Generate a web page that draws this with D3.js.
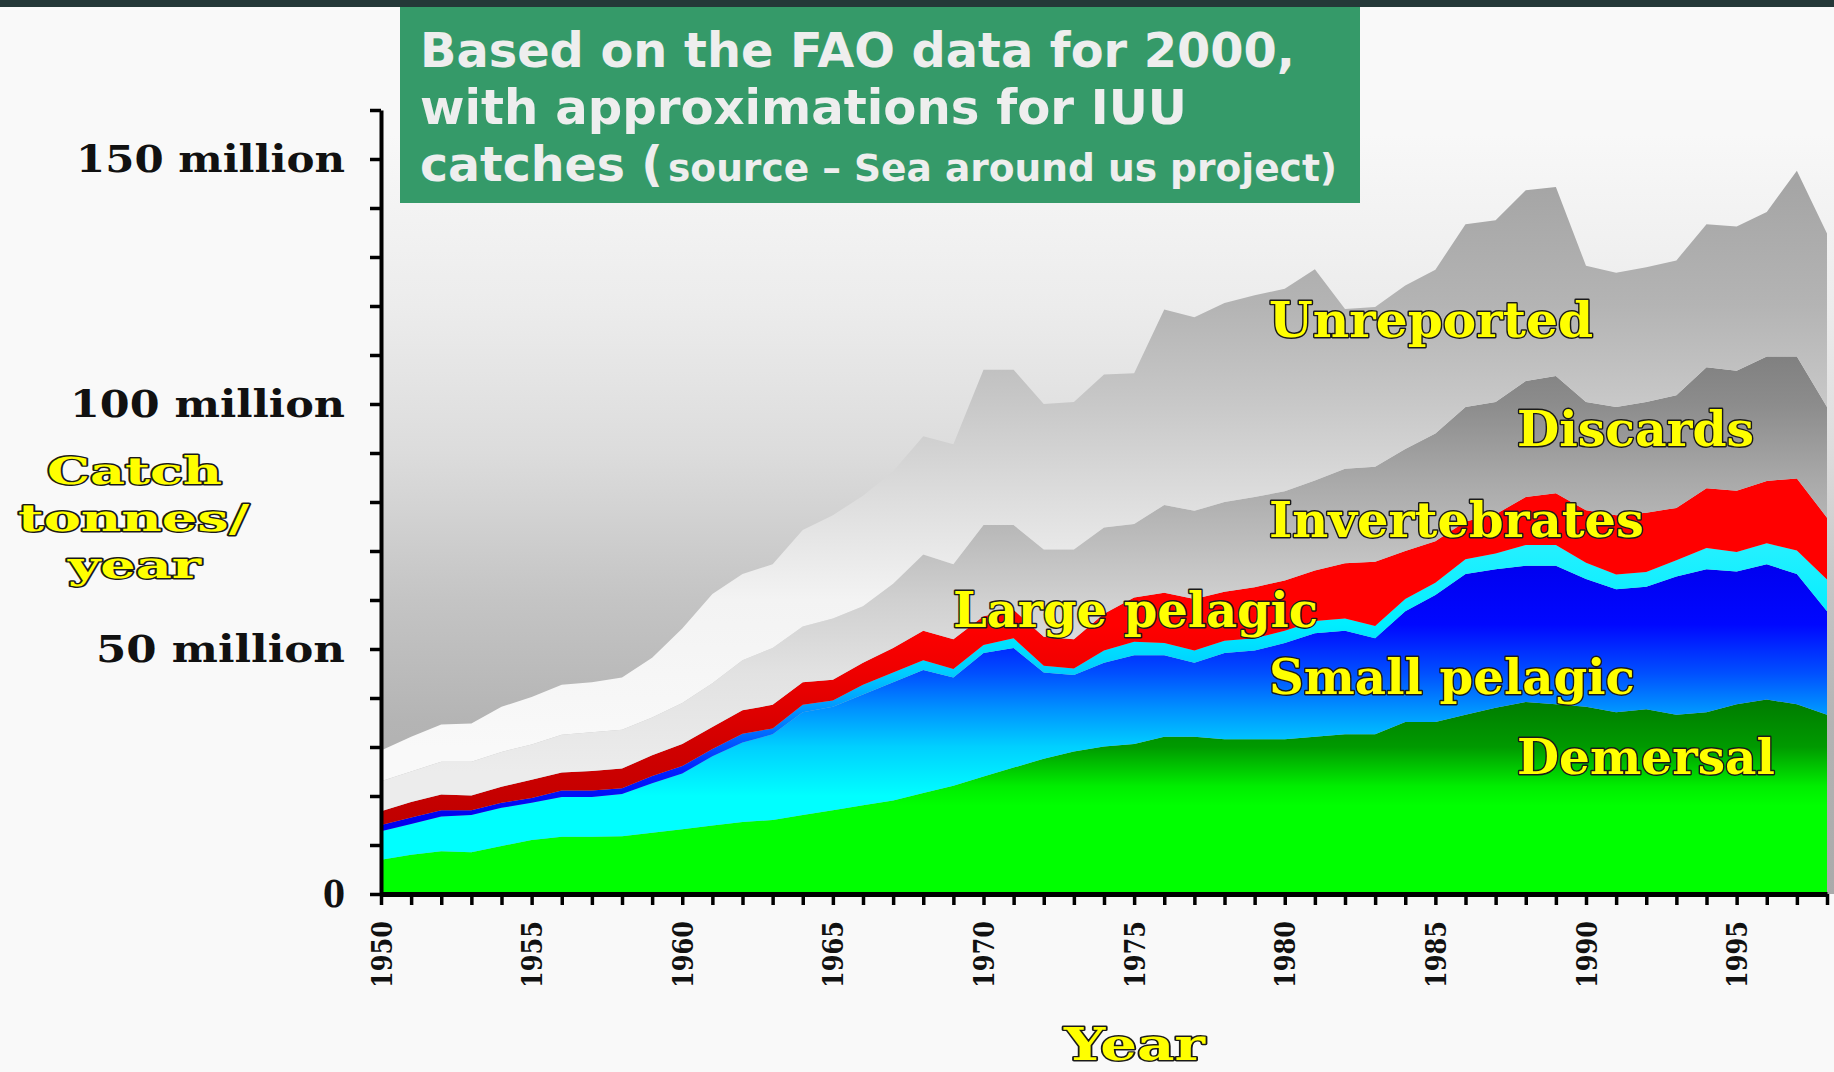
<!DOCTYPE html>
<html>
<head>
<meta charset="utf-8">
<script src="https://cdn.jsdelivr.net/npm/d3@7"></script>
<style>
  html, body { margin: 0; padding: 0; background: #f9f9f9; }
  svg { display: block; }
</style>
</head>
<body>
<div id="chart"></div>
<script>
// catch by group, million tonnes per year
const years = d3.range(1950, 1999);

const demersal = [7.0, 8.0, 8.7, 8.5, 9.8, 11.0, 11.7, 11.7, 11.8, 12.5,
  13.2, 14.0, 14.7, 15.1, 16.1, 17.1, 18.1, 19.1, 20.6, 22.1,
  24.0, 25.8, 27.6, 29.1, 30.1, 30.6, 32.1, 32.1, 31.6, 31.6,
  31.6, 32.1, 32.6, 32.6, 35.1, 35.1, 36.6, 38.0, 39.2, 38.7,
  38.2, 37.1, 37.7, 36.6, 37.1, 38.7, 39.7, 38.7, 36.6];

const smallPelagic = [5.8, 6.3, 7.1, 7.6, 7.8, 7.6, 8.1, 8.1, 8.6, 10.1,
  11.4, 14.1, 16.2, 17.5, 21.0, 21.1, 22.6, 24.1, 25.1, 22.1,
  25.2, 24.4, 17.6, 15.6, 17.1, 18.1, 16.6, 15.1, 17.6, 18.1,
  19.6, 21.1, 21.1, 19.6, 22.6, 25.9, 28.7, 28.3, 27.8, 28.3,
  26.1, 25.1, 25.0, 28.2, 29.2, 27.1, 27.6, 26.6, 21.1];

const largePelagic = [1.3, 1.3, 1.3, 1.0, 1.0, 1.0, 1.3, 1.3, 1.2, 1.5,
  1.5, 1.5, 1.8, 1.2, 1.5, 1.3, 2.0, 2.0, 2.0, 1.7,
  1.6, 2.0, 1.4, 1.3, 2.5, 2.8, 2.5, 2.5, 2.5, 2.5,
  2.5, 2.5, 2.5, 2.5, 2.5, 2.5, 3.0, 3.2, 4.2, 4.2,
  3.3, 3.0, 3.0, 3.3, 4.3, 4.0, 4.3, 4.8, 6.5];

const invertebrates = [2.8, 3.2, 3.2, 3.0, 3.3, 3.7, 3.7, 4.0, 4.0, 4.2,
  4.5, 4.5, 4.8, 4.8, 4.6, 4.2, 4.5, 5.0, 6.0, 6.1,
  5.9, 5.8, 5.9, 6.0, 7.5, 9.0, 10.3, 10.5, 10.0, 10.4,
  10.3, 10.3, 11.3, 13.1, 9.8, 8.5, 7.7, 8.0, 9.8, 10.6,
  10.7, 12.1, 12.1, 10.7, 12.2, 12.5, 12.7, 14.7, 12.6];

const discards = [6.1, 6.2, 6.7, 6.9, 7.1, 7.2, 7.7, 7.9, 7.9, 7.7,
  8.4, 8.9, 10.2, 11.6, 11.4, 12.5, 11.5, 13.1, 15.6, 15.3,
  18.6, 17.3, 17.8, 18.3, 17.6, 15.0, 17.9, 18.0, 18.3, 18.4,
  18.2, 18.4, 19.3, 19.4, 20.8, 22.0, 23.4, 22.9, 23.7, 23.9,
  22.1, 22.1, 22.6, 23.0, 24.7, 24.5, 25.4, 24.9, 22.6];

const unreported = [6.3, 7.1, 7.6, 7.8, 9.2, 9.7, 10.2, 10.2, 10.7, 12.2,
  15.2, 18.2, 17.6, 17.1, 19.7, 21.1, 22.6, 23.0, 24.1, 24.5,
  31.7, 31.7, 29.7, 30.1, 31.2, 30.8, 39.9, 39.5, 40.6, 41.2,
  41.3, 43.1, 32.6, 32.6, 33.4, 33.4, 37.3, 37.1, 38.9, 38.6,
  27.8, 27.4, 27.5, 27.5, 29.2, 29.4, 29.5, 37.9, 35.4];

const seriesNames = ['Demersal', 'Small pelagic', 'Large pelagic', 'Invertebrates', 'Discards', 'Unreported'];
const seriesValues = [demersal, smallPelagic, largePelagic, invertebrates, discards, unreported];

const yTicks = [0, 10, 20, 30, 40, 50, 60, 70, 80, 90, 100, 110, 120, 130, 140, 150, 160];
const yLabelled = {0: '0', 50: '50 million', 100: '100 million', 150: '150 million'};
const yearLabels = [1950, 1955, 1960, 1965, 1970, 1975, 1980, 1985, 1990, 1995];

const W = 1834, H = 1072;

const svg = d3.select('#chart').append('svg')
  .attr('width', W)
  .attr('height', H)
  .attr('viewBox', `0,0,${W},${H}`);

const x = d3.scaleLinear().domain([1950, 1998]).range([381, 1827]);
const y = d3.scaleLinear().domain([0, 160]).range([894, 110]);

// gradients: stops given in million tonnes, placed through the y scale
const defs = svg.append('defs');
function vGradient(id, stops) {
  const g = defs.append('linearGradient')
    .attr('id', id)
    .attr('gradientUnits', 'userSpaceOnUse')
    .attr('x1', 0).attr('x2', 0)
    .attr('y1', y(160)).attr('y2', y(0));
  stops.forEach(([v, c]) => {
    g.append('stop').attr('offset', (y(v) - y(160)) / (y(0) - y(160))).attr('stop-color', c);
  });
}
vGradient('g-bg', [[155, '#f8f8f8'], [120, '#ececec'], [90, '#dcdcdc'], [60, '#c4c4c4'], [35, '#b4b4b4'], [0, '#aaaaaa']]);
vGradient('g-dem', [[40, '#007a00'], [30, '#009a00'], [22, '#00ee00'], [18, '#00ff00']]);
vGradient('g-sp', [[67, '#0000f0'], [55, '#0008ff'], [45, '#0050ff'], [38, '#0090ff'], [30, '#00d0ff'], [20, '#00ffff']]);
vGradient('g-lp', [[70, '#22f0ff'], [55, '#00eeff'], [45, '#00ccff'], [35, '#0080ff'], [25, '#0020ff'], [15, '#0000ee']]);
vGradient('g-inv', [[55, '#ff0000'], [45, '#ee0000'], [30, '#d00000'], [15, '#c00000']]);
vGradient('g-dis', [[110, '#808080'], [100, '#8c8c8c'], [85, '#a8a8a8'], [75, '#b8b8b8'], [60, '#d0d0d0'], [45, '#e2e2e2'], [25, '#ececec']]);
vGradient('g-unr', [[145, '#a5a5a5'], [120, '#b4b4b4'], [100, '#c8c8c8'], [80, '#dedede'], [60, '#f3f3f3'], [30, '#f9f9f9']]);
const fills = ['url(#g-dem)', 'url(#g-sp)', 'url(#g-lp)', 'url(#g-inv)', 'url(#g-dis)', 'url(#g-unr)'];

// dark strip along the top
svg.append('rect').attr('x', 0).attr('y', 0).attr('width', W).attr('height', 7).attr('fill', '#243838');

// plot background
svg.append('rect')
  .attr('x', x(1950)).attr('y', 100)
  .attr('width', W - x(1950)).attr('height', y(0) - 100)
  .attr('fill', 'url(#g-bg)');

const rows = years.map((yr, i) => {
  const row = {year: yr};
  seriesNames.forEach((k, j) => { row[k] = seriesValues[j][i]; });
  return row;
});
const stacked = d3.stack().keys(seriesNames)(rows);

const area = d3.area()
  .x(d => x(d.data.year))
  .y0(d => y(d[0]))
  .y1(d => y(d[1]));

svg.append('g').attr('class', 'layers')
  .selectAll('path')
  .data(stacked)
  .join('path')
  .attr('d', area)
  .attr('fill', (d, i) => fills[i]);

// axes
const serif = "'DejaVu Serif', 'Liberation Serif', serif";

const yAxis = svg.append('g')
  .attr('transform', `translate(${x(1950)},0)`)
  .call(d3.axisLeft(y).tickValues(yTicks).tickSize(11).tickSizeOuter(0).tickPadding(25)
    .tickFormat(v => yLabelled[v] || ''));
yAxis.select('.domain').attr('stroke', '#000').attr('stroke-width', 4);
yAxis.selectAll('.tick line').attr('stroke', '#000').attr('stroke-width', 3.5);
const yLabelWidth = {0: 22, 50: 249, 100: 275, 150: 269};
yAxis.selectAll('.tick text')
  .attr('fill', '#111')
  .style('font-family', serif)
  .style('font-weight', 'bold')
  .style('font-size', '38px')
  .each(function(v) {
    if (yLabelWidth[v]) d3.select(this).attr('textLength', yLabelWidth[v]).attr('lengthAdjust', 'spacingAndGlyphs');
  });

const xAxis = svg.append('g')
  .attr('transform', `translate(0,${y(0)})`)
  .call(d3.axisBottom(x).tickValues(years).tickSize(11).tickSizeOuter(0)
    .tickFormat(v => yearLabels.includes(v) ? String(v) : ''));
xAxis.select('.domain').attr('stroke', '#000').attr('stroke-width', 5);
xAxis.selectAll('.tick line').attr('stroke', '#000').attr('stroke-width', 3.5);
xAxis.selectAll('.tick text')
  .attr('transform', 'rotate(-90)')
  .attr('x', -27)
  .attr('y', 0)
  .attr('dy', '0.36em')
  .attr('text-anchor', 'end')
  .attr('fill', '#111')
  .style('font-family', serif)
  .style('font-weight', 'bold')
  .style('font-size', '28px')
  .each(function(v) {
    if (yearLabels.includes(v)) d3.select(this).attr('textLength', 67).attr('lengthAdjust', 'spacingAndGlyphs');
  });

// yellow outlined labels
function yellow(g, txt, px, py, len, size) {
  g.append('text')
    .attr('x', px).attr('y', py)
    .attr('textLength', len).attr('lengthAdjust', 'spacingAndGlyphs')
    .attr('fill', '#ffff00')
    .attr('stroke', '#1a1a1a')
    .attr('stroke-width', 2.8)
    .attr('stroke-linejoin', 'round')
    .attr('paint-order', 'stroke')
    .style('font-family', serif)
    .style('font-weight', 'bold')
    .style('font-size', size + 'px')
    .text(txt);
}
const labels = svg.append('g').attr('class', 'series-labels');
yellow(labels, 'Unreported', 1269, 337, 324, 48);
yellow(labels, 'Discards', 1517, 446, 237, 48);
yellow(labels, 'Invertebrates', 1269, 537, 375, 48);
yellow(labels, 'Large pelagic', 953, 627, 365, 48);
yellow(labels, 'Small pelagic', 1269, 694, 366, 48);
yellow(labels, 'Demersal', 1517, 774, 258, 48);

const titles = svg.append('g').attr('class', 'axis-titles');
yellow(titles, 'Catch', 47, 484, 175, 38);
yellow(titles, 'tonnes/', 18, 531, 231, 38);
yellow(titles, 'year', 68, 578, 133, 38);
yellow(titles, 'Year', 1064, 1060, 141, 44);

// note box
const note = svg.append('g').attr('class', 'note');
note.append('rect').attr('x', 400).attr('y', 7).attr('width', 960).attr('height', 196).attr('fill', '#359a69');
const sans = "'DejaVu Sans', Verdana, sans-serif";
const noteLines = [
  {t: 'Based on the FAO data for 2000,', x: 420, y: 67, len: 875, size: 48},
  {t: 'with approximations for IUU', x: 420, y: 124, len: 767, size: 48},
  {t: 'catches (', x: 420, y: 181, len: 243, size: 48},
  {t: 'source – Sea around us project)', x: 668, y: 181, len: 669, size: 37}
];
note.selectAll('text.line')
  .data(noteLines)
  .join('text')
  .attr('class', 'line')
  .attr('x', d => d.x).attr('y', d => d.y)
  .attr('textLength', d => d.len).attr('lengthAdjust', 'spacingAndGlyphs')
  .attr('fill', '#eeeeee')
  .style('font-family', sans)
  .style('font-weight', 'bold')
  .style('font-size', d => d.size + 'px')
  .text(d => d.t);
</script>
</body>
</html>
